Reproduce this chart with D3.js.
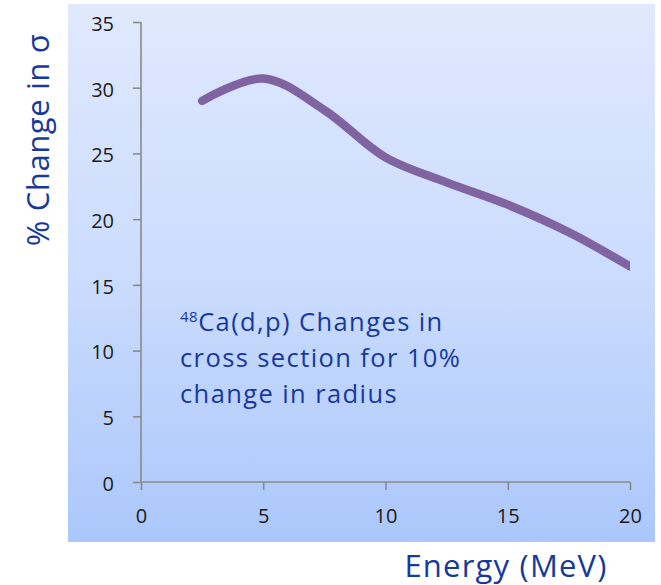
<!DOCTYPE html>
<html>
<head>
<meta charset="utf-8">
<script src="https://cdn.jsdelivr.net/npm/d3@7"></script>
<style>
  html, body { margin: 0; padding: 0; background: #ffffff; }
  svg { display: block; }
</style>
</head>
<body>
<svg id="chart" width="661" height="585"></svg>
<script>
// Percentage change of the 48Ca(d,p) cross section for a 10% radius change
const energies = [2.5, 5, 7.5, 10, 12.5, 15, 17.5, 20];
const pctChange = [29.0, 30.7, 28.3, 24.7, 22.8, 21.1, 19.0, 16.4];
const xTicks = [0, 5, 10, 15, 20];
const yTicks = [0, 5, 10, 15, 20, 25, 30, 35];
const noteLines = ["Ca(d,p) Changes in", "cross section for 10%", "change in radius"];

const svg = d3.select("#chart");
const font = "'Open Sans', 'Noto Sans', sans-serif";
const textBlue = "#16399a";

// panel background with vertical gradient
const defs = svg.append("defs");
const grad = defs.append("linearGradient").attr("id", "bg")
  .attr("x1", 0).attr("y1", 0).attr("x2", 0).attr("y2", 1);
grad.append("stop").attr("offset", "0%").attr("stop-color", "#e0e9fd");
grad.append("stop").attr("offset", "50%").attr("stop-color", "#cbdcfd");
grad.append("stop").attr("offset", "100%").attr("stop-color", "#abc7fb");

svg.append("rect").attr("x", 68).attr("y", 4).attr("width", 587).attr("height", 538)
  .attr("fill", "url(#bg)");

const x = d3.scaleLinear().domain([0, 20]).range([141, 630]);
const y = d3.scaleLinear().domain([0, 35]).range([482, 22]);

const axisColor = "#8a8a8a";

// y axis
const yAxis = svg.append("g").attr("transform", `translate(${x(0)},0)`)
  .call(d3.axisLeft(y).tickValues(yTicks).tickSize(8).tickPadding(19));
// x axis
const xAxis = svg.append("g").attr("transform", `translate(0,${y(0)})`)
  .call(d3.axisBottom(x).tickValues(xTicks).tickSize(8).tickPadding(22));

[yAxis, xAxis].forEach(g => {
  g.select(".domain").attr("stroke", axisColor).attr("stroke-width", 1.6);
  g.selectAll(".tick line").attr("stroke", axisColor).attr("stroke-width", 1.6);
  g.selectAll(".tick text").attr("fill", "#1b1b1b")
    .style("font-family", font).style("font-size", "20px");
});
yAxis.select(".domain").attr("d", `M0,${y(35)}V${y(0)}`);
xAxis.select(".domain").attr("d", `M${x(0)},0H${x(20)}`);
yAxis.selectAll(".tick text").attr("dy", "0.42em");
xAxis.selectAll(".tick text").attr("dy", "0.55em");

// curve, clipped at the right end of the plot
defs.append("clipPath").attr("id", "plotClip")
  .append("rect").attr("x", 0).attr("y", 0).attr("width", x(20)).attr("height", 585);

const line = d3.line()
  .x((d, i) => x(energies[i]))
  .y(d => y(d))
  .curve(d3.curveCatmullRom.alpha(0.5));

svg.append("path")
  .datum(pctChange)
  .attr("clip-path", "url(#plotClip)")
  .attr("d", line)
  .attr("fill", "none")
  .attr("stroke", "#8064a2")
  .attr("stroke-width", 8.5)
  .attr("stroke-linecap", "round")
  .attr("stroke-linejoin", "round");

// annotation
const note = svg.append("text")
  .attr("fill", textBlue)
  .style("font-family", font).style("font-size", "25.5px")
  .style("letter-spacing", "1.4px");
noteLines.forEach((t, i) => {
  const ts = note.append("tspan").attr("x", 180).attr("y", 331 + i * 36);
  if (i === 0) {
    ts.append("tspan").text("48").style("font-size", "15px").attr("dy", "-9")
      .style("letter-spacing", "0.5px");
    ts.append("tspan").text(t).attr("dy", "9");
  } else {
    ts.text(t);
  }
});

// axis titles
svg.append("text")
  .attr("x", 506).attr("y", 577)
  .attr("text-anchor", "middle")
  .attr("fill", textBlue)
  .style("font-family", font).style("font-size", "31px")
  .style("letter-spacing", "1.2px")
  .text("Energy (MeV)");

svg.append("text")
  .attr("transform", "translate(49,140) rotate(-90)")
  .attr("text-anchor", "middle")
  .attr("fill", textBlue)
  .style("font-family", font).style("font-size", "31px")
  .style("letter-spacing", "0.6px")
  .text("% Change in σ");
</script>
</body>
</html>
